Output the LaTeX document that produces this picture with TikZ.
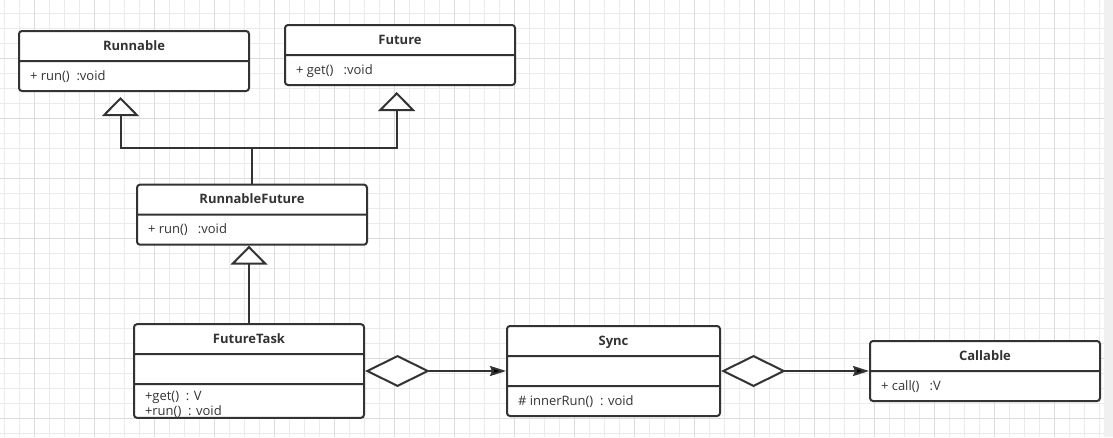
\documentclass[tikz,border=0pt]{standalone}
\usepackage{fontspec}
\setmainfont{Open Sans}
\usetikzlibrary{arrows.meta,positioning,shapes.multipart}
\definecolor{umlline}{HTML}{333333}
\definecolor{gridminor}{HTML}{EBEBEB}
\definecolor{gridmajor}{HTML}{DCDCDC}
\definecolor{sidebar}{HTML}{F0F0F0}
\newcommand{\partstrut}{\rule[-10pt]{0pt}{28pt}}
\newcommand{\twolines}[2]{\rule[-5.1pt]{0pt}{31.6pt}\raisebox{-3.5pt}[\height][0pt]{\vbox{\baselineskip=14.7pt\hbox{#1}\hbox{#2}}}}

\begin{document}
\begin{tikzpicture}[x=1pt,y=-1pt]
\tikzstyle{umlclass} = [rectangle split, rectangle split parts=2, draw=umlline, line width=2pt, rounded corners=3pt, fill=white, text=umlline, minimum width=230pt, inner xsep=11pt, inner ysep=0pt, rectangle split part align={center,left,left}, font=\fontsize{13}{15}\selectfont]
\tikzstyle{umlclass3} = [umlclass, rectangle split parts=3]
\tikzstyle{inherit} = [draw=umlline, line width=2pt, -{Triangle[fill=white,length=19pt,width=37pt]}]
\tikzstyle{aggregate} = [draw=umlline, line width=2pt, {Diamond[fill=white,length=65pt,width=32pt]}-{Stealth[length=16pt,width=10pt,inset=2pt]}]

\pgfdeclarelayer{background}
\pgfsetlayers{background,main}

\useasboundingbox (0,0) rectangle (1113,437);

\node[umlclass] (runnable) at (134,61) {\partstrut\textbf{Runnable}
  \nodepart{two}\partstrut+ run()\ \ :void};
\node[umlclass] (future) at (400,55) {\partstrut\textbf{Future}
  \nodepart{two}\partstrut+ get()\ \ \ :void};

\node[umlclass3] (futuretask) at (249,371) {\partstrut\textbf{FutureTask}
  \nodepart{two}\partstrut
  \nodepart{three}\twolines{+get()\ \ : V}{+run()\ \ : void}};
\node[umlclass, above=77.5pt of futuretask, xshift=3pt] (runnablefuture) {\partstrut\textbf{RunnableFuture}
  \nodepart{two}\partstrut+ run()\ \ \ :void};

\node[umlclass3, right=141pt of futuretask, minimum width=213pt] (sync) {\partstrut\textbf{Sync}
  \nodepart{two}\partstrut
  \nodepart{three}\partstrut\#\ innerRun()\ \ : void};
\node[umlclass, right=148pt of sync] (callable) {\partstrut\textbf{Callable}
  \nodepart{two}\partstrut+ call()\ \ \ :V};

\coordinate (joint) at (252,148);

\draw[inherit, shorten >=5pt] (runnablefuture.north) -- (joint) -| ([xshift=-13.5pt]runnable.south);
\draw[inherit, shorten >=6pt] (joint) -| ([xshift=-3.3pt]future.south);
\draw[inherit] (futuretask.north) -- (futuretask.north |- runnablefuture.south);

\draw[aggregate] (futuretask.east) -- (sync.west);
\draw[aggregate] (sync.east) -- (callable.west);

\begin{pgfonlayer}{background}
\fill[white] (0,0) rectangle (1113,437);
\fill[sidebar] (1104,0) rectangle (1113,437);
\foreach \x in {4,19,...,1099} \draw[gridminor, line width=1pt] (\x,0) -- (\x,437);
\foreach \y in {13,28,...,433} \draw[gridminor, line width=1pt] (0,\y) -- (1104,\y);
\foreach \x in {34,94,...,1054} \draw[gridmajor, line width=1pt] (\x,0) -- (\x,437);
\foreach \y in {58,118,...,418} \draw[gridmajor, line width=1pt] (0,\y) -- (1104,\y);
\end{pgfonlayer}

\end{tikzpicture}
\end{document}
